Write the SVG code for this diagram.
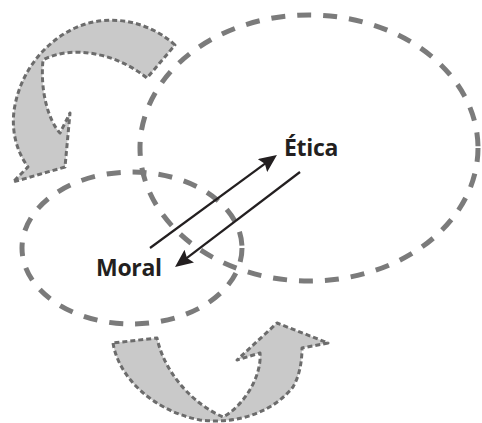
<svg xmlns="http://www.w3.org/2000/svg" width="482" height="423" viewBox="0 0 482 423">
<style>
.ring{fill:none;stroke:#7b7b7b;stroke-width:5;stroke-dasharray:14 12}
.cyc{fill:#c9c9c9;stroke:#6c6c6c;stroke-width:3;stroke-dasharray:5 3;stroke-linejoin:round}
.lbl{font-family:"Open Sans","Liberation Sans",sans-serif;font-weight:700;font-size:23px;fill:#231f20;letter-spacing:-0.3px}
.arr{fill:none;stroke:#231f20;stroke-width:2.2}
</style>
<defs>
<marker id="head" viewBox="0 0 18 16" refX="10" refY="8" markerWidth="18" markerHeight="16" markerUnits="userSpaceOnUse" orient="auto">
<path d="M0,0 L18,8 L0,16 L3,8 Z" fill="#231f20"/>
</marker>
</defs>
<rect width="482" height="423" fill="#ffffff"/>
<g id="cycle-top">
<path class="cyc" d="M175,45 C150,22 110,12 75,28 C45,42 22,70 15,105 C10,130 17,152 28,167 L13,182 L65,167 L70,113 L60,133 C48,120 40,90 43,60 C70,45 115,52 147,78 Z"/>
</g>
<g id="cycle-bottom">
<path class="cyc" d="M113,343 C118,375 150,410 200,420 C240,425 275,410 293,387 C300,375 302,360 302,348 L328,343 L277,323 L237,360 L260,353 C262,375 245,405 223,417 C195,405 165,375 157,338 Z"/>
</g>
<g id="etica">
<ellipse class="ring" cx="309" cy="148" rx="169" ry="133"/>
<text class="lbl" x="284" y="156">Ética</text>
</g>
<g id="moral">
<ellipse class="ring" cx="132" cy="248" rx="110" ry="76"/>
<text class="lbl" x="96" y="276">Moral</text>
</g>
<g id="connectors">
<line class="arr" x1="150" y1="248" x2="270.5" y2="159.7" marker-end="url(#head)"/>
<line class="arr" x1="300" y1="172" x2="181.4" y2="262.2" marker-end="url(#head)"/>
</g>
</svg>
